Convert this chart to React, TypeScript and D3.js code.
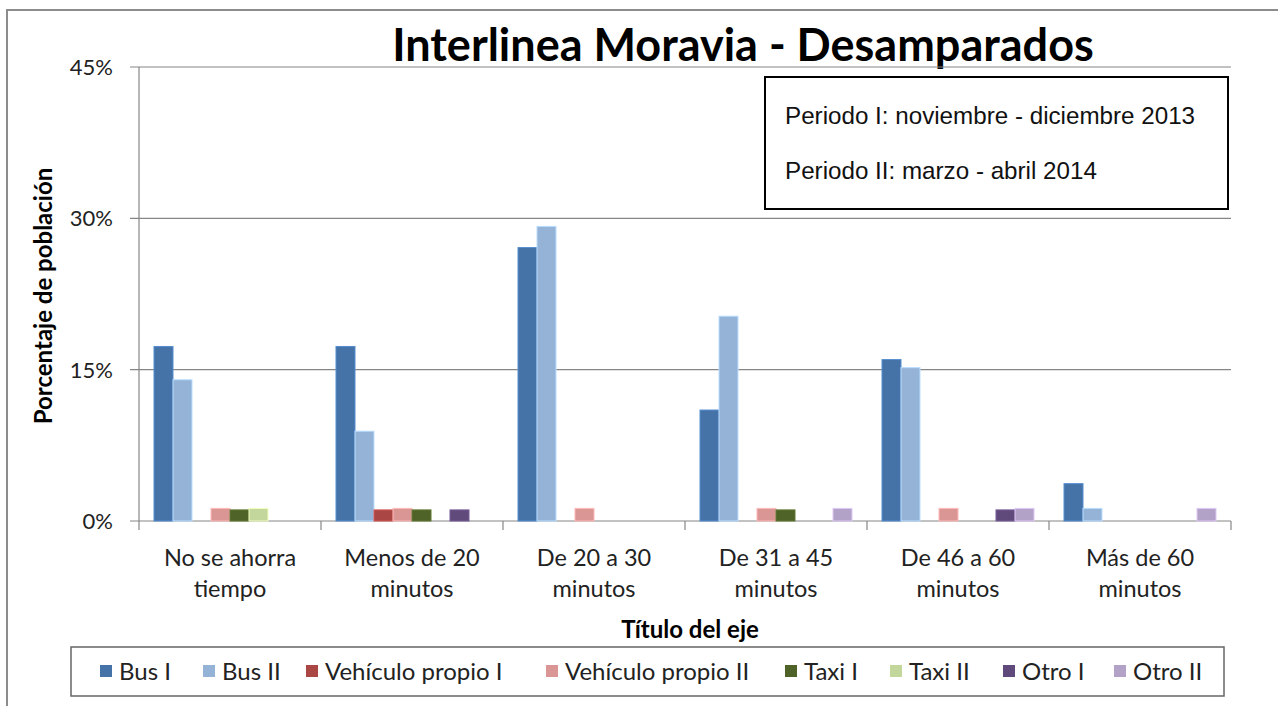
import * as d3 from "d3";

const categories = [
  ["No se ahorra", "tiempo"],
  ["Menos de 20", "minutos"],
  ["De 20 a 30", "minutos"],
  ["De 31 a 45", "minutos"],
  ["De 46 a 60", "minutos"],
  ["Más de 60", "minutos"],
];
const seriesNames = ["Bus I", "Bus II", "Vehículo propio I", "Vehículo propio II", "Taxi I", "Taxi II", "Otro I", "Otro II"];
const seriesColors = ["#4572A7", "#95B3D7", "#AA4643", "#D99694", "#4F6228", "#C3D69B", "#604A7B", "#B3A2C7"];

// percent values per series, one per category
const busI = [17.3, 17.3, 27.1, 11.0, 16.0, 3.7];
const busII = [14.0, 8.9, 29.2, 20.3, 15.2, 1.25];
const vehI = [0, 1.1, 0, 0, 0, 0];
const vehII = [1.25, 1.25, 1.25, 1.25, 1.25, 0];
const taxiI = [1.1, 1.1, 0, 1.1, 0, 0];
const taxiII = [1.25, 0, 0, 0, 0, 0];
const otroI = [0, 1.1, 0, 0, 1.1, 0];
const otroII = [0, 0, 0, 1.25, 1.25, 1.25];
const seriesValues = [busI, busII, vehI, vehII, taxiI, taxiII, otroI, otroII];

const yTicks = [0, 15, 30, 45];
const legendX = [100, 203, 306, 546, 785, 890, 1003, 1114];

const FONT = "Lato, 'Open Sans', sans-serif";
const ARIAL = "'Liberation Sans', Arial, sans-serif";

export default function App() {
  const left = 139, right = 1231, top = 67, bottom = 521;
  const y = d3.scaleLinear().domain([0, 45]).range([bottom, top]);
  const x0 = d3.scaleBand().domain(categories.map((c) => c.join(" "))).range([left, right]).padding(0);
  const x1 = d3.scaleBand().domain(seriesNames).range([15, x0.bandwidth() - 15]).padding(0);
  const grid = "#868686";

  return (
    <svg width={1278} height={706} style={{ position: "absolute", left: 0, top: 0, background: "#fff" }}>
      <rect x={7} y={10} width={1400} height={800} fill="#fff" stroke="#8c8c8c" strokeWidth={2} />

      <text x={743} y={61} textAnchor="middle" fontFamily={FONT} fontWeight="bold" fontSize={45}>
        Interlinea Moravia - Desamparados
      </text>

      {yTicks.map((t) => (
        <g key={t}>
          <line x1={130} x2={right} y1={y(t)} y2={y(t)} stroke={grid} strokeWidth={1.2} />
          <text x={113} y={y(t) + 8} textAnchor="end" fontFamily={FONT} fontSize={22} fill="#222">
            {t}%
          </text>
        </g>
      ))}
      <line x1={left} x2={left} y1={top} y2={bottom} stroke={grid} strokeWidth={1.2} />
      {d3.range(categories.length + 1).map((i) => (
        <line key={i} x1={left + i * x0.bandwidth()} x2={left + i * x0.bandwidth()} y1={bottom} y2={bottom + 9} stroke={grid} strokeWidth={1.2} />
      ))}

      {categories.map((c, ci) => {
        const key = c.join(" ");
        return (
          <g key={key} transform={`translate(${x0(key)},0)`}>
            {seriesNames.map((s, si) => {
              const v = seriesValues[si][ci];
              if (!v) return null;
              return (
                <rect
                  key={s}
                  x={x1(s)}
                  y={y(v)}
                  width={x1.bandwidth()}
                  height={bottom - y(v)}
                  fill={seriesColors[si]}
                  stroke={d3.color(seriesColors[si])!.brighter(0.6).formatHex()}
                  strokeWidth={1}
                />
              );
            })}
            {c.map((line, li) => (
              <text key={li} x={x0.bandwidth() / 2} y={566 + li * 31} textAnchor="middle" fontFamily={FONT} fontSize={23.5} fill="#222">
                {line}
              </text>
            ))}
          </g>
        );
      })}

      <text transform="translate(52,296) rotate(-90)" textAnchor="middle" fontFamily={FONT} fontWeight="bold" fontSize={24}>
        Porcentaje de población
      </text>
      <text x={690} y={638} textAnchor="middle" fontFamily={FONT} fontWeight="bold" fontSize={24}>
        Título del eje
      </text>

      <rect x={765} y={77} width={463} height={132} fill="#fff" stroke="#000" strokeWidth={2} />
      <text x={785} y={124} fontFamily={ARIAL} fontSize={24.2} fill="#111">
        Periodo I: noviembre - diciembre 2013
      </text>
      <text x={785} y={179} fontFamily={ARIAL} fontSize={24.2} fill="#111">
        Periodo II: marzo - abril 2014
      </text>

      <rect x={71} y={647} width={1153} height={49} fill="#fff" stroke="#666" strokeWidth={1.5} />
      {seriesNames.map((s, i) => (
        <g key={s}>
          <rect x={legendX[i]} y={665} width={12} height={12} fill={seriesColors[i]} />
          <text x={legendX[i] + 19} y={680} fontFamily={FONT} fontSize={24} fill="#222">
            {s}
          </text>
        </g>
      ))}
    </svg>
  );
}
